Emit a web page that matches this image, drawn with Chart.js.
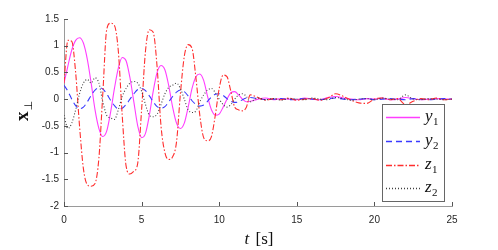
<!DOCTYPE html>
<html>
<head>
<meta charset="utf-8">
<script src="https://cdn.jsdelivr.net/npm/chart.js@4"></script>
<style>
  html, body { margin: 0; padding: 0; background: #fff; }
  #wrap { width: 498px; height: 250px; position: relative; }
</style>
</head>
<body>
<div id="wrap"><canvas id="myChart"></canvas></div>
<script>
// time samples [s]
const timeValues = [
    0, 0.25, 0.5, 0.75, 1, 1.25, 1.5, 1.75, 2, 2.25, 2.5, 2.75, 3, 3.25, 3.5, 3.75,
    4, 4.25, 4.5, 4.75, 5, 5.25, 5.5, 5.75, 6, 6.25, 6.5, 6.75, 7, 7.25, 7.5, 7.75,
    8, 8.25, 8.5, 8.75, 9, 9.25, 9.5, 9.75, 10, 10.25, 10.5, 10.75, 11, 11.25, 11.5, 11.75, 12,
    12.5, 13, 13.5, 14, 14.5, 15, 15.5, 16, 16.5, 17, 17.5, 18, 18.5, 19, 19.5,
    20, 20.5, 21, 21.5, 22, 22.5, 23, 23.5, 24, 24.5, 25
];

// series values
const y1Values = [
    0.3, 0.62, 0.92, 1.1, 1.15, 1.05, 0.75, 0.3, -0.2, -0.55, -0.7, -0.6, -0.25, 0.2, 0.58, 0.78,
    0.72, 0.4, -0.05, -0.5, -0.72, -0.64, -0.3, 0.15, 0.5, 0.63, 0.55, 0.25, -0.15, -0.45, -0.55, -0.45,
    -0.15, 0.2, 0.42, 0.47, 0.35, 0.05, -0.2, -0.3, -0.28, -0.15, 0.0, 0.12, 0.14, 0.08, 0.0, -0.05, -0.04,
    0.0, 0.02, -0.01, 0.01, 0.0, -0.01, 0.02, 0.0, -0.01, 0.03, 0.05, 0.02, 0.0, -0.01, 0.01,
    0.0, 0.02, -0.01, 0.0, 0.03, 0.01, -0.01, 0.0, 0.01, 0.0, 0.0
];
const y2Values = [
    0.26, 0.15, 0.0, -0.12, -0.18, -0.15, -0.05, 0.07, 0.17, 0.21, 0.19, 0.1, -0.02, -0.12, -0.18, -0.17,
    -0.1, 0.0, 0.1, 0.18, 0.2, 0.16, 0.06, -0.05, -0.14, -0.17, -0.14, -0.05, 0.05, 0.13, 0.17, 0.14,
    0.06, -0.03, -0.1, -0.13, -0.11, -0.04, 0.04, 0.09, 0.1, 0.07, 0.01, -0.04, -0.06, -0.05, -0.01, 0.02, 0.03,
    0.01, -0.01, 0.0, 0.01, -0.01, 0.0, 0.01, 0.0, -0.01, 0.01, 0.02, 0.0, -0.01, 0.0, 0.01,
    -0.01, 0.0, 0.01, 0.0, -0.01, 0.01, 0.0, -0.01, 0.0, 0.01, 0.0
];
const z1Values = [
    0.3, 1.1, 1.08, 0.5, -0.5, -1.3, -1.6, -1.63, -1.58, -1.1, 0.1, 1.3, 1.42, 1.38, 0.9, -0.3,
    -1.25, -1.4, -1.35, -1.2, -0.2, 0.9, 1.3, 1.25, 0.6, -0.5, -1.0, -1.13, -1.08, -0.8, 0.1, 0.8,
    1.02, 0.95, 0.4, -0.3, -0.72, -0.78, -0.7, -0.3, 0.2, 0.45, 0.42, 0.15, -0.15, -0.2, -0.22, -0.15, 0.08,
    0.03, -0.02, 0.01, -0.01, 0.02, -0.02, 0.0, 0.01, -0.02, 0.02, 0.1, 0.05, -0.02, -0.07, -0.08,
    0.0, 0.02, -0.01, 0.01, -0.1, -0.04, 0.01, -0.01, 0.02, -0.01, 0.0
];
const z2Values = [
    -0.3, -0.55, -0.45, -0.2, 0.1, 0.3, 0.37, 0.3, 0.4, 0.3, -0.05, -0.3, -0.35, -0.38, -0.2, 0.05,
    0.2, 0.3, 0.33, 0.3, 0.15, -0.1, -0.3, -0.33, -0.28, -0.1, 0.1, 0.22, 0.26, 0.3, 0.2, 0.0,
    -0.2, -0.25, -0.22, -0.05, 0.08, 0.17, 0.2, 0.12, 0.0, -0.1, -0.15, -0.1, 0.0, 0.08, 0.1, 0.05, -0.05,
    0.02, -0.01, 0.01, -0.02, 0.01, 0.0, -0.01, 0.02, 0.0, -0.01, 0.03, 0.01, -0.02, 0.0, 0.01,
    -0.01, 0.02, 0.0, -0.01, 0.08, 0.0, -0.01, 0.01, 0.0, -0.01, 0.0
];

// tick labels
const xTicks = [0, 5, 10, 15, 20, 25];
const yTicks = [-2, -1.5, -1, -0.5, 0, 0.5, 1, 1.5];

// legend names: letter + subscript
const seriesNames = [['y', '1'], ['y', '2'], ['z', '1'], ['z', '2']];
const seriesColors = ['#ff3dff', '#3a3aff', '#ff2e2e', '#404040'];
const seriesDashes = [[], [6, 4], [6, 2, 1.5, 2], [1, 2]];

const axisGray = '#9a9a9a';
const tickFont = { family: 'Liberation Sans', size: 10 };

// Build {x, y} points from time and a value list
function toPoints(values) {
    return timeValues.map((t, i) => ({ x: t, y: values[i] }));
}

// Inward tick marks, axis titles and legend box
const decorPlugin = {
    id: 'decor',
    afterDraw(chart) {
        const ctx = chart.ctx;
        const area = chart.chartArea;
        const xs = chart.scales.x;
        const ys = chart.scales.y;
        ctx.save();

        // tick marks pointing into the plot
        ctx.strokeStyle = '#555';
        ctx.lineWidth = 1;
        ctx.beginPath();
        xTicks.forEach(v => {
            const px = Math.round(xs.getPixelForValue(v)) + 0.5;
            ctx.moveTo(px, area.bottom);
            ctx.lineTo(px, area.bottom - 4);
        });
        yTicks.forEach(v => {
            const py = Math.round(ys.getPixelForValue(v)) + 0.5;
            ctx.moveTo(area.left, py);
            ctx.lineTo(area.left + 4, py);
        });
        ctx.stroke();

        // x axis title: t [s]
        ctx.fillStyle = '#111';
        ctx.textBaseline = 'alphabetic';
        const italic = 'italic 17px "Liberation Serif"';
        const roman = '17px "Liberation Serif"';
        ctx.font = italic;
        const wT = ctx.measureText('t').width;
        ctx.font = roman;
        const wS = ctx.measureText(' [s]').width;
        const cx = (area.left + area.right) / 2;
        let sx = cx - (wT + wS) / 2;
        ctx.font = italic;
        ctx.fillText('t', sx, 244);
        ctx.font = roman;
        ctx.fillText(' [s]', sx + wT + 2, 244);

        // y axis title: bold x with perpendicular subscript
        ctx.save();
        ctx.translate(28, 111);
        ctx.rotate(-Math.PI / 2);
        ctx.font = 'bold 19px "Liberation Serif"';
        const wX = ctx.measureText('x').width;
        ctx.font = '11px "DejaVu Sans"';
        const wP = ctx.measureText('\u22A5').width;
        const start = -(wX + wP + 1) / 2;
        ctx.font = 'bold 19px "Liberation Serif"';
        ctx.fillText('x', start, 0);
        ctx.font = '11px "DejaVu Sans"';
        ctx.fillText('\u22A5', start + wX + 1, 4);
        ctx.restore();

        // legend box
        const bx = 382.5, by = 104.5, bw = 62, bh = 97;
        ctx.fillStyle = '#fff';
        ctx.fillRect(bx, by, bw, bh);
        ctx.strokeStyle = '#666';
        ctx.lineWidth = 1;
        ctx.strokeRect(bx, by, bw, bh);
        const rows = [117, 141, 165, 188];
        seriesNames.forEach((name, i) => {
            const ry = rows[i] + 0.5;
            ctx.save();
            ctx.strokeStyle = seriesColors[i];
            ctx.lineWidth = 1.5;
            ctx.setLineDash(seriesDashes[i]);
            ctx.beginPath();
            ctx.moveTo(386, ry);
            ctx.lineTo(420, ry);
            ctx.stroke();
            ctx.restore();
            ctx.fillStyle = '#111';
            ctx.font = 'italic 17px "Liberation Serif"';
            ctx.fillText(name[0], 425, rows[i] + 4);
            const wl = ctx.measureText(name[0]).width;
            ctx.font = '11px "Liberation Serif"';
            ctx.fillText(name[1], 425 + wl + 0.5, rows[i] + 8);
        });

        ctx.restore();
    }
};

function makeDataset(label, values, i, order) {
    return {
        label,
        data: toPoints(values),
        borderColor: seriesColors[i],
        borderWidth: 1.1,
        borderDash: seriesDashes[i],
        pointRadius: 0,
        fill: false,
        cubicInterpolationMode: 'monotone',
        order
    };
}

const ctx = document.getElementById('myChart').getContext('2d');
new Chart(ctx, {
    type: 'line',
    data: {
        datasets: [
            makeDataset('y1', y1Values, 0, 4),
            makeDataset('y2', y2Values, 1, 3),
            makeDataset('z1', z1Values, 2, 2),
            makeDataset('z2', z2Values, 3, 1)
        ]
    },
    options: {
        responsive: true,
        maintainAspectRatio: false,
        animation: false,
        events: [],
        layout: { padding: { left: 0, top: 19, right: 46, bottom: 0 } },
        plugins: {
            legend: { display: false },
            tooltip: { enabled: false }
        },
        scales: {
            x: {
                type: 'linear',
                min: 0,
                max: 25,
                afterFit: scale => { scale.height = 44; },
                afterBuildTicks: scale => { scale.ticks = xTicks.map(v => ({ value: v })); },
                grid: { display: false, drawTicks: false },
                border: { display: true, color: axisGray, width: 1 },
                ticks: { padding: 8, color: '#262626', font: tickFont, maxRotation: 0 }
            },
            y: {
                type: 'linear',
                min: -2,
                max: 1.5,
                afterFit: scale => { scale.width = 64; },
                afterBuildTicks: scale => { scale.ticks = yTicks.map(v => ({ value: v })); },
                grid: { display: false, drawTicks: false },
                border: { display: true, color: axisGray, width: 1 },
                ticks: { padding: 5, color: '#262626', font: tickFont, callback: v => String(v) }
            }
        }
    },
    plugins: [decorPlugin]
});
</script>
</body>
</html>
